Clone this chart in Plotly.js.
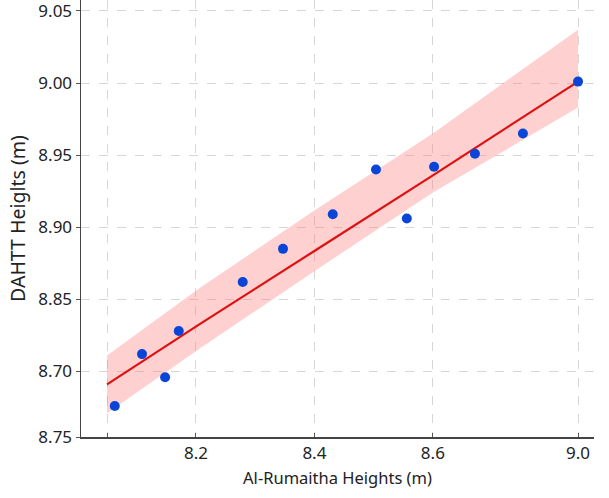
<!DOCTYPE html>
<html>
<head>
<meta charset="utf-8">
<script src="https://cdn.plot.ly/plotly-3.0.1.min.js"></script>
<style>
html,body{margin:0;padding:0;background:#fff;}
#chart{width:609px;height:498px;}
</style>
</head>
<body>
<div id="chart"></div>
<script>
// Observed points
const xVals = [8.063, 8.109, 8.148, 8.171, 8.279, 8.347, 8.431, 8.504, 8.556, 8.602, 8.671, 8.752, 8.845];
const yVals = [8.776, 8.812, 8.796, 8.828, 8.862, 8.885, 8.909, 8.940, 8.906, 8.942, 8.951, 8.965, 9.001];

// Fitted line and confidence band
const fitX = [8.050, 8.207, 8.398, 8.600, 8.845];
const fitY = [8.791, 8.833, 8.883, 8.936, 9.001];
const bandUpper = [8.811, 8.858, 8.911, 8.965, 9.037];
const bandLower = [8.771, 8.816, 8.869, 8.924, 8.983];

// Tick labels as printed
const xTickVals = [8.050, 8.2, 8.4, 8.6, 8.845];
const xTickText = ["", "8.2", "8.4", "8.6", "9.0"];
const yTickVals = [9.05, 9.00, 8.95, 8.90, 8.85, 8.80, 8.7545];
const yTickText = ["9.05", "9.00", "8.95", "8.90", "8.85", "8.70", "8.75"];

const traces = [
  {x: fitX, y: bandLower, mode: 'lines', line: {width: 0, color: 'rgba(0,0,0,0)'}, hoverinfo: 'skip', showlegend: false},
  {x: fitX, y: bandUpper, mode: 'lines', line: {width: 0, color: 'rgba(0,0,0,0)'}, fill: 'tonexty', fillcolor: 'rgba(255,120,120,0.35)', hoverinfo: 'skip', showlegend: false},
  {x: fitX, y: fitY, mode: 'lines', line: {color: '#dd1111', width: 2.2}, showlegend: false},
  {x: xVals, y: yVals, mode: 'markers', marker: {color: '#0a45d8', size: 10}, showlegend: false}
];

const fam = '"Noto Sans", "Open Sans", sans-serif';

const layout = {
  width: 609, height: 498,
  margin: {l: 81, r: 15, t: 0, b: 61},
  paper_bgcolor: '#ffffff', plot_bgcolor: '#ffffff',
  font: {family: fam, color: '#222'},
  showlegend: false,
  xaxis: {
    range: [8.006, 8.872],
    tickmode: 'array', tickvals: xTickVals, ticktext: xTickText,
    ticks: 'inside', ticklen: 4, tickcolor: '#555',
    tickfont: {size: 17, color: '#222', family: fam},
    showgrid: true, gridcolor: '#d6d6d6', griddash: 'dash', gridwidth: 1,
    showline: true, linecolor: '#444', linewidth: 1.5,
    zeroline: false,
    title: {text: 'Al-Rumaitha Heights (m)', font: {size: 16.5, color: '#222', family: fam}, standoff: 9}
  },
  yaxis: {
    range: [8.7545, 9.0576],
    tickmode: 'array', tickvals: yTickVals, ticktext: yTickText,
    ticks: 'outside', ticklen: 4, tickcolor: '#555',
    ticklabeloverflow: 'allow',
    tickfont: {size: 17, color: '#222', family: fam},
    showgrid: true, gridcolor: '#d6d6d6', griddash: 'dash', gridwidth: 1,
    showline: true, linecolor: '#444', linewidth: 1.5,
    zeroline: false,
    title: {text: 'DAHTT Heiglts (m)', font: {size: 19.5, color: '#222', family: fam}, standoff: 7}
  }
};

Plotly.newPlot('chart', traces, layout, {staticPlot: true, displayModeBar: false});
</script>
</body>
</html>
